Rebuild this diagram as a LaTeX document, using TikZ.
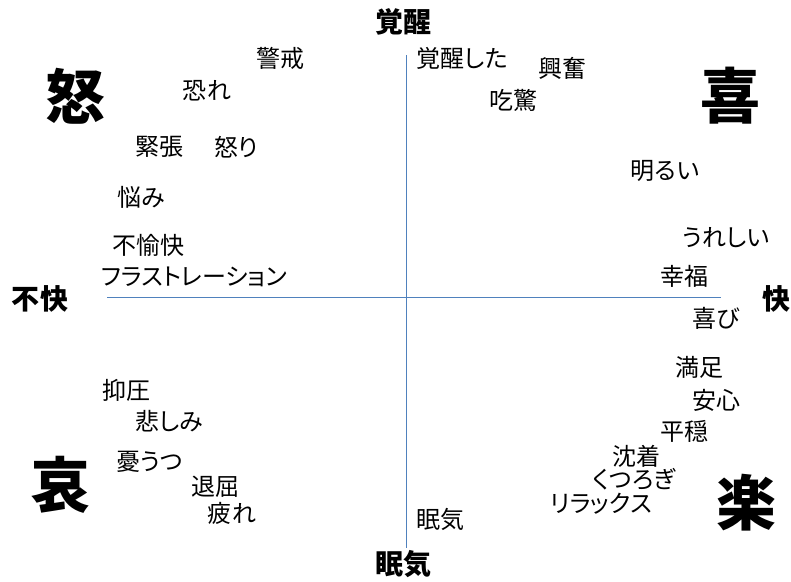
\documentclass[tikz,border=0pt]{standalone}
\usepackage{fontspec}
\setmainfont{Noto Sans CJK JP}[RawFeature=+palt]
\definecolor{axisblue}{RGB}{79,129,189}
\tikzset{
  lbl/.style={inner sep=0pt, font=\fontsize{24}{26}\selectfont},
  axlbl/.style={inner sep=0pt, font=\fontsize{28}{30}\selectfont\bfseries},
  big/.style={inner sep=0pt, font=\fontsize{60}{64}\selectfont\bfseries},
  axisline/.style={draw=axisblue, line width=0.9pt}
}
\begin{document}
\begin{tikzpicture}[x=1pt,y=-1pt]
\useasboundingbox (0,0) rectangle (791,581);
% axes
\coordinate (vtop) at (406,55);
\coordinate (vbot) at (406,548);
\coordinate (hleft) at (107,297);
\coordinate (hright) at (721,297);
\draw[axisline] (vtop) -- (vbot);
\draw[axisline] (hleft) -- (hright);
% axis labels
\node[axlbl] (top) at (403,22) {覚醒};
\node[axlbl] (bottom) at (403,564) {眠気};
\node[axlbl] (left) at (40,299) {不快};
\node[axlbl] (right) at (776,299) {快};
% quadrant labels
\node[big] (q1) at (75,96) {怒};
\node[big] (q2) at (730,96) {喜};
\node[big] (q3) at (60,485) {哀};
\node[big] (q4) at (746,503) {楽};
% words
\node[lbl] (w1) at (280,58) {警戒};
\node[lbl] (w2) at (207,91) {恐れ};
\node[lbl] (w3) at (159,147) {緊張};
\node[lbl] (w4) at (236,147) {怒り};
\node[lbl] (w5) at (141,197) {悩み};
\node[lbl] (w6) at (148,245) {不愉快};
\node[lbl] (w7) at (194,277) {フラストレーション};
\node[lbl] (w8) at (462,58) {覚醒した};
\node[lbl] (w9) at (562,68) {興奮};
\node[lbl] (w10) at (513,100) {吃驚};
\node[lbl] (w11) at (665,171) {明るい};
\node[lbl] (w12) at (726,238) {うれしい};
\node[lbl] (w13) at (684,276) {幸福};
\node[lbl] (w14) at (716,318) {喜び};
\node[lbl] (w15) at (699,367) {満足};
\node[lbl] (w16) at (716,400) {安心};
\node[lbl] (w17) at (684,431) {平穏};
\node[lbl] (w18) at (636,456) {沈着};
\node[lbl] (w19) at (634,479) {くつろぎ};
\node[lbl] (w20) at (601,504) {リラックス};
\node[lbl] (w21) at (440,519) {眠気};
\node[lbl] (w22) at (126,390) {抑圧};
\node[lbl] (w23) at (169,421) {悲しみ};
\node[lbl] (w24) at (150,462) {憂うつ};
\node[lbl] (w25) at (215,487) {退屈};
\node[lbl] (w26) at (232,513) {疲れ};
\end{tikzpicture}
\end{document}
